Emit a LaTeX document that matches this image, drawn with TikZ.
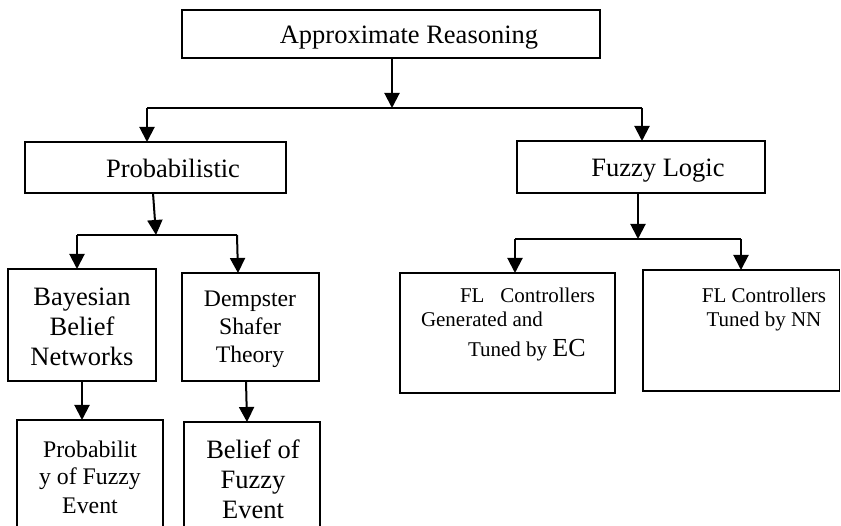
\documentclass[tikz,border=0pt]{standalone}
\usepackage{fontspec}
\setmainfont{Liberation Serif}
\usetikzlibrary{arrows.meta}
\newcommand{\mlines}[1]{\begin{tabular}[t]{@{}c@{}}#1\end{tabular}}
\newcommand{\fsz}[2]{\fontsize{#1}{#2}\selectfont}
\begin{document}
\begin{tikzpicture}[x=1pt,y=-1pt,
  box/.style={draw, line width=1.3pt, inner sep=0pt, outer sep=0pt},
  lbl/.style={inner sep=0pt, outer sep=0pt, anchor=base},
  arr/.style={line width=2pt, -{Triangle[width=15pt,length=15pt]}},
  bar/.style={line width=1.1pt}]
\clip (0,0) rectangle (841,526);
\fill[white] (0,0) rectangle (841,526);
% boxes
\node[box, minimum width=418pt, minimum height=48pt] (top) at (391,34) {};
\node[box, minimum width=261pt, minimum height=51pt] (prob) at (155.5,167.5) {};
\node[box, minimum width=248pt, minimum height=52pt] (fuzzy) at (641,167) {};
\node[box, minimum width=148pt, minimum height=112pt] (bayes) at (82,325) {};
\node[box, minimum width=137pt, minimum height=108pt] (demp) at (250.5,327) {};
\node[box, minimum width=146pt, minimum height=120pt] (pfe) at (90,480) {};
\node[box, minimum width=136pt, minimum height=118pt] (bfe) at (252,481) {};
\node[box, minimum width=215pt, minimum height=120pt] (flec) at (507.5,333) {};
\node[box, minimum width=196.5pt, minimum height=121pt] (flnn) at (741.25,330.5) {};
% texts
\node[lbl, font=\fsz{26.5}{30}] (topT) at (409,44) {Approximate Reasoning};
\node[lbl, font=\fsz{26.5}{30}] (probT) at (173,178) {Probabilistic};
\node[lbl, font=\fsz{26.5}{30}] (fuzzyT) at (658,177) {Fuzzy Logic};
\node[lbl, font=\fsz{26.5}{30}] (bayesT) at (82,306) {\mlines{Bayesian\\Belief\\Networks}};
\node[lbl, font=\fsz{23.7}{28}] (dempT) at (250,307) {\mlines{Dempster\\Shafer\\Theory}};
\node[lbl, font=\fsz{23.8}{28}] (pfeT) at (90,457) {\mlines{Probabilit\\y of Fuzzy\\Event}};
\node[lbl, font=\fsz{26.5}{30}] (bfeT) at (253,458) {\mlines{Belief of\\Fuzzy\\Event}};
\node[lbl, font=\fsz{21}{24}] (nnT) at (764,303) {\mlines{FL Controllers\\Tuned by NN}};
\node[lbl, anchor=base west, font=\fsz{21}{24}] (ecA) at (460,303) {FL\hspace{16pt}Controllers};
\node[lbl, anchor=base west, font=\fsz{21}{24}] (ecB) at (421,327) {Generated and};
\node[lbl, anchor=base west, font=\fsz{21}{24}] (ecC) at (468,357) {Tuned by {\fsz{26}{30}EC}};
% connectors
\coordinate (b1L) at (147,108);
\coordinate (b1R) at (642,108);
\draw[bar] (b1L) -- (b1R);
\draw[arr] ([xshift=1pt]top.south) -- ([xshift=1pt]top.south |- b1L);
\draw[arr] (b1L) -- (b1L |- prob.north);
\draw[arr] (b1R) -- (b1R |- fuzzy.north);
\coordinate (b2L) at (77,235);
\coordinate (b2R) at (237,235);
\coordinate (b2M) at (156,235);
\draw[bar] (b2L) -- (b2R);
\draw[arr] ([xshift=-2.5pt]prob.south) -- (b2M);
\draw[arr] (b2L) -- (b2L |- bayes.north);
\draw[arr] (b2R) -- ([xshift=1pt]b2R |- demp.north);
\draw[arr] (bayes.south) -- (bayes.south |- pfe.north);
\draw[arr] ([xshift=-4.5pt]demp.south) -- ([xshift=-3.5pt]demp.south |- bfe.north);
\coordinate (b3L) at (515,239);
\coordinate (b3R) at (741,239);
\coordinate (b3M) at (638,239);
\draw[bar] (b3L) -- (b3R);
\draw[arr] ([xshift=-3pt]fuzzy.south) -- (b3M);
\draw[arr] (b3L) -- (b3L |- flec.north);
\draw[arr] (b3R) -- (b3R |- flnn.north);
\end{tikzpicture}
\end{document}
